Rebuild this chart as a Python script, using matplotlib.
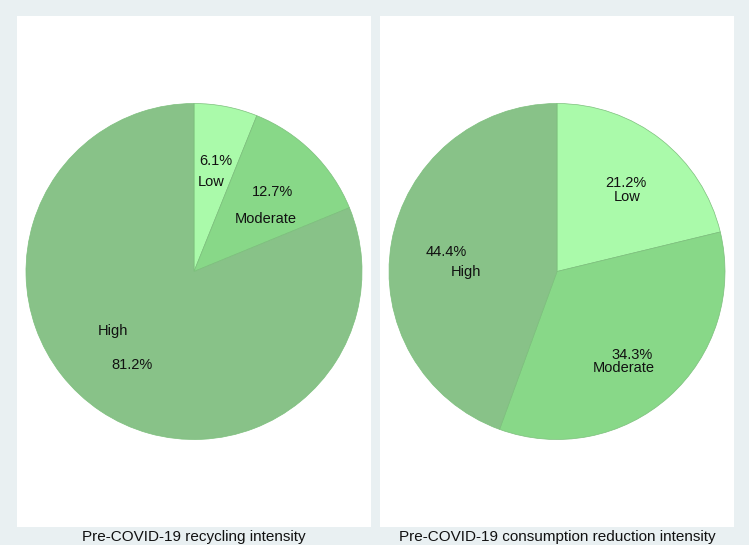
import numpy as np
import matplotlib
matplotlib.use("Agg")
import matplotlib.pyplot as plt

plt.rcParams['font.family'] = ['Liberation Sans', 'DejaVu Sans']

# data
levels = ["Low", "Moderate", "High"]
recycling = [6.1, 12.7, 81.2]
reduction = [21.2, 34.3, 44.4]
titles = ["Pre-COVID-19 recycling intensity",
          "Pre-COVID-19 consumption reduction intensity"]

colors = ["#aafaaa", "#88d888", "#88c288"]
edge = "#7cbf7c"
bg = "#e9f0f2"

# name label placement (radius fraction, angle in degrees), per pie
name_pos = [
    [(0.545, 79.3), (0.53, 36.4), (0.60, 216.5)],
    [(0.61, 46.6), (0.70, -55.4), (0.54, 180.6)],
]
PCT_R = 0.667

W, H = 749, 545
fig = plt.figure(figsize=(W / 100, H / 100), dpi=100)
fig.patch.set_facecolor(bg)

panels = [(17, 16, 354, 511), (380, 16, 354, 511)]  # x, y(top), w, h in px
R_PX = 168

for i, vals in enumerate([recycling, reduction]):
    x0, y0, pw, ph = panels[i]
    ax = fig.add_axes([x0 / W, (H - y0 - ph) / H, pw / W, ph / H])
    wedges, _ = ax.pie(vals, colors=colors, startangle=90, counterclock=False,
                       radius=1.0, wedgeprops={'edgecolor': edge, 'linewidth': 0.5})
    ax.set_frame_on(True)
    for s in ax.spines.values():
        s.set_visible(False)
    ax.set_facecolor("white")
    ax.set_xticks([])
    ax.set_yticks([])
    ax.set_aspect('auto')
    hx = pw / 2 / R_PX
    hy = ph / 2 / R_PX
    ax.set_xlim(-hx, hx)
    ax.set_ylim(-hy, hy)

    for j, w in enumerate(wedges):
        mid = np.deg2rad((w.theta1 + w.theta2) / 2)
        ax.text(PCT_R * np.cos(mid), PCT_R * np.sin(mid), f"{vals[j]:.1f}%",
                ha='center', va='center', fontsize=10.5, color="#111111")
        r, a = name_pos[i][j]
        a = np.deg2rad(a)
        ax.text(r * np.cos(a), r * np.sin(a), levels[j],
                ha='center', va='center', fontsize=10.5, color="#111111")

    fig.text((x0 + pw / 2) / W, (H - 537) / H, titles[i],
             ha='center', va='center', fontsize=11, color="#111111")

fig.savefig("out.png", dpi=100, facecolor=bg)
